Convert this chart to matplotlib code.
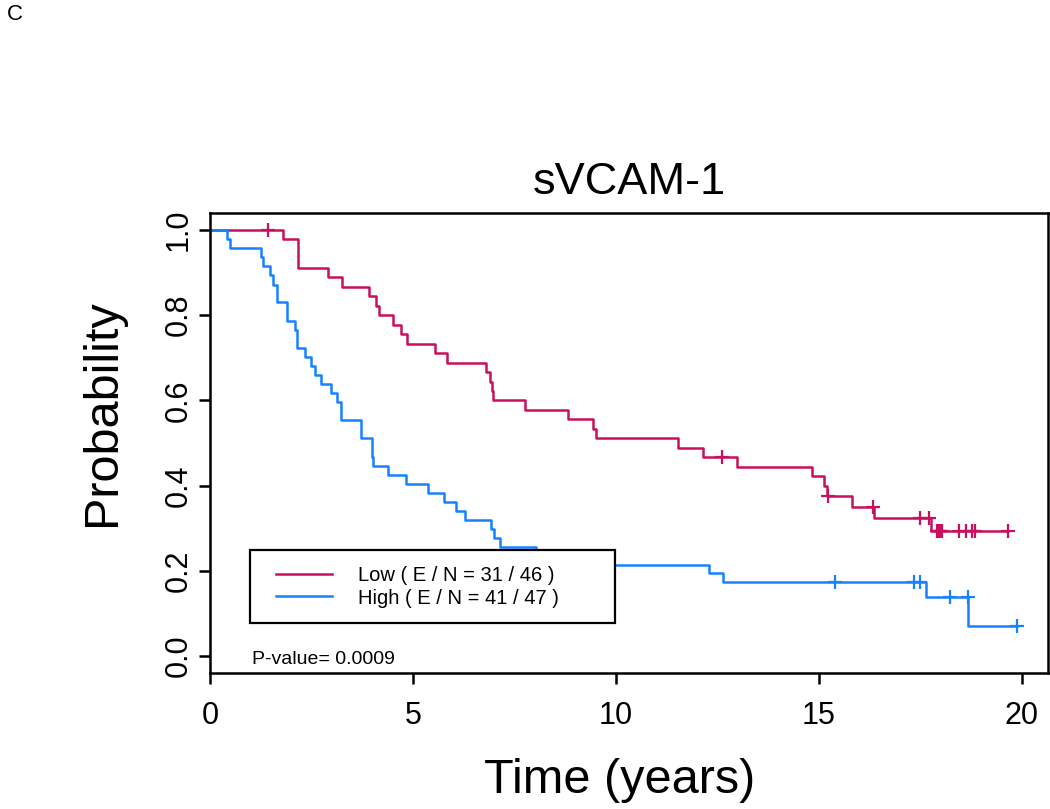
import numpy as np
import matplotlib
matplotlib.use("Agg")
import matplotlib.pyplot as plt
from matplotlib.lines import Line2D
from matplotlib.legend_handler import HandlerLine2D

plt.rcParams['font.family'] = ['Liberation Sans', 'DejaVu Sans']

# --- dados (Kaplan-Meier, sVCAM-1) ---
# grupo Low: tempos dos eventos (anos) e sobrevida depois de cada queda
low_times = [0, 1.81, 2.16, 2.90, 3.24, 3.92, 4.08, 4.16, 4.50, 4.70, 4.86,
             5.54, 5.83, 6.81, 6.90, 6.94, 6.98, 7.76, 8.83, 9.44, 9.52,
             11.52, 12.15, 12.99, 14.84, 15.12, 15.19, 15.82, 16.36, 17.76]
low_surv = [1.0, 0.978, 0.911, 0.889, 0.867, 0.844, 0.822, 0.800, 0.778, 0.756, 0.733,
            0.711, 0.689, 0.667, 0.644, 0.622, 0.600, 0.578, 0.556, 0.533, 0.511,
            0.489, 0.467, 0.444, 0.422, 0.398, 0.376, 0.350, 0.325, 0.293]
low_cens = [1.44, 12.62, 15.23, 16.32, 17.49, 17.71, 17.92, 17.95, 17.98, 18.02,
            18.46, 18.62, 18.78, 18.84, 19.65]

# grupo High
high_times = [0, 0.41, 0.49, 1.25, 1.30, 1.49, 1.56, 1.66, 1.90, 2.09, 2.15,
              2.34, 2.50, 2.59, 2.73, 2.98, 3.14, 3.22, 3.73, 3.98, 4.02,
              4.39, 4.83, 5.36, 5.77, 6.06, 6.28, 6.92, 7.00, 7.14, 8.04,
              8.90, 12.29, 12.63, 17.63, 18.68]
high_surv = [1.0, 0.979, 0.957, 0.936, 0.915, 0.894, 0.872, 0.830, 0.787, 0.766, 0.723,
             0.702, 0.681, 0.660, 0.638, 0.617, 0.596, 0.553, 0.511, 0.468, 0.447,
             0.426, 0.404, 0.383, 0.362, 0.340, 0.319, 0.298, 0.277, 0.255, 0.234,
             0.214, 0.195, 0.174, 0.139, 0.070]
high_cens = [15.39, 17.34, 17.50, 18.23, 18.66, 19.87]

labels = ['Low ( E / N = 31 / 46 )', 'High ( E / N = 41 / 47 )']
cores = ['#C8105F', '#1682FF']
p_valor = 'P-value= 0.0009'


def surv_em(t, tempos, surv):
    # valor da curva em escada no tempo t
    idx = np.searchsorted(tempos, t, side='right') - 1
    return np.array(surv)[idx]


fig = plt.figure(figsize=(10.5, 8.09), dpi=100)
ax = fig.add_axes([0.2, 0.1681, 0.798, 0.5686])

grupos = [(low_times, low_surv, low_cens), (high_times, high_surv, high_cens)]
for (tempos, surv, cens), cor, lab in zip(grupos, cores, labels):
    fim = max(cens)
    ax.step(tempos + [fim], surv + [surv[-1]], where='post', color=cor, lw=1.8, label=lab)
    ax.plot(cens, surv_em(cens, tempos, surv), linestyle='none', marker='+',
            markersize=10, markeredgewidth=1.6, color=cor)

ax.set_xlim(0, 20.64)
ax.set_ylim(-0.04, 1.04)
ax.set_xticks([0, 5, 10, 15, 20])
ax.set_yticks([0.0, 0.2, 0.4, 0.6, 0.8, 1.0])
ax.set_yticklabels(['0.0', '0.2', '0.4', '0.6', '0.8', '1.0'], rotation=90, va='center')
ax.tick_params(axis='x', labelsize=22, length=8, width=1.8, pad=12)
ax.tick_params(axis='y', labelsize=22, length=8, width=1.8, pad=4)
for s in ax.spines.values():
    s.set_linewidth(1.8)

ax.set_title('sVCAM-1', fontsize=32.5, pad=14)
ax.set_xlabel('Time (years)', fontsize=35)
ax.set_ylabel('Probability', fontsize=35)
ax.xaxis.set_label_coords(0.489, -0.185)
ax.yaxis.set_label_coords(-0.102, 0.565)

leg = ax.legend(loc='upper left', bbox_to_anchor=(0.0477, 0.2674, 0.4356, 0.0),
                mode='expand', borderaxespad=0, fancybox=False, fontsize=14.5,
                borderpad=0.79, handlelength=3.29, handletextpad=1.3, labelspacing=0.18,
                handler_map={Line2D: HandlerLine2D(xpad=0.50)})
leg.get_frame().set_edgecolor('black')
leg.get_frame().set_linewidth(1.6)
leg.get_frame().set_alpha(1)

ax.text(0.05, 0.02, p_valor, transform=ax.transAxes, fontsize=14, ha='left', va='baseline')
fig.text(0.007, 0.995, 'C', fontsize=16, ha='left', va='top')

plt.savefig('out.png', dpi=100)
